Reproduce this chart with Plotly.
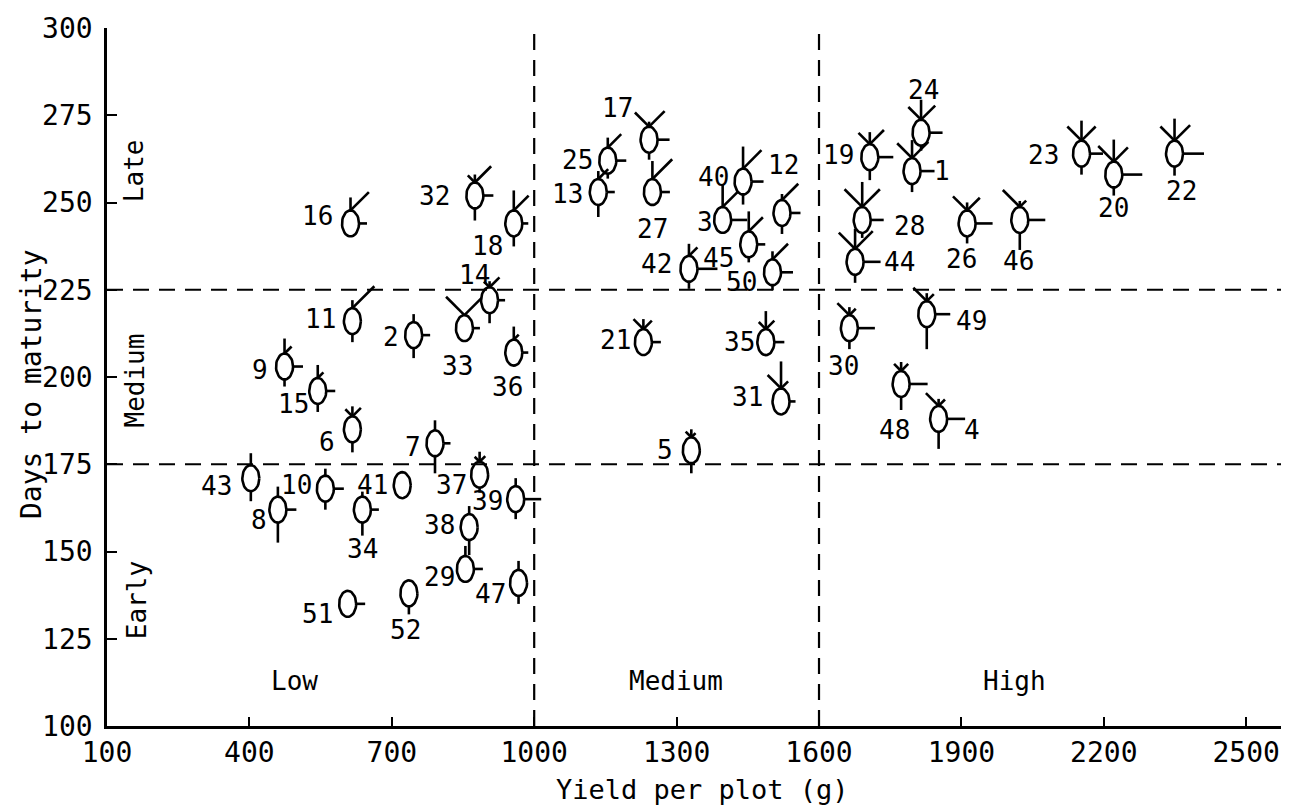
import numpy as np
import plotly.graph_objects as go

# ---------------- data ----------------
ids = list(range(1, 53))
yield_g = [1796, 746, 1397, 1852, 1331, 617, 791, 460, 474, 560,
           617, 1522, 1135, 906, 544, 613, 1242, 957, 1707, 2221,
           1230, 2349, 2153, 1815, 1155, 1912, 1249, 1691, 855, 1664,
           1520, 875, 853, 638, 1488, 957, 885, 863, 961, 1440,
           722, 1326, 403, 1676, 1452, 2023, 967, 1773, 1827, 1502,
           607, 736]
days = [259, 212, 245, 188, 179, 185, 181, 162, 203, 168,
        216, 247, 253, 222, 196, 244, 268, 244, 263, 258,
        210, 264, 264, 270, 262, 244, 253, 245, 145, 214,
        193, 252, 214, 162, 210, 207, 172, 157, 165, 256,
        169, 231, 171, 233, 238, 245, 141, 198, 218, 230,
        135, 138]
# ray lengths of the metroglyphs (upper-left, up, upper-right, right, down)
ray_ul = [21, 0, 0, 18, 8, 10, 0, 0, 0, 0,
          0, 0, 0, 8, 0, 0, 20, 0, 16, 22,
          14, 20, 20, 18, 0, 20, 0, 25, 0, 17,
          19, 10, 26, 0, 10, 0, 7, 0, 0, 0,
          0, 0, 0, 23, 0, 24, 0, 10, 19, 0,
          0, 0]
ray_up = [18, 8, 22, 7, 8, 10, 10, 10, 15, 7,
          8, 6, 8, 6, 13, 13, 5, 20, 12, 22,
          10, 22, 20, 20, 10, 8, 18, 25, 10, 8,
          27, 8, 0, 5, 18, 13, 10, 8, 8, 22,
          0, 12, 12, 20, 20, 6, 9, 9, 8, 8,
          0, 0]
ray_ur = [23, 0, 21, 9, 6, 12, 0, 0, 10, 0,
          31, 23, 14, 14, 8, 26, 22, 21, 20, 20,
          12, 22, 20, 20, 19, 18, 28, 25, 0, 9,
          10, 23, 24, 0, 12, 7, 8, 0, 0, 26,
          0, 12, 0, 25, 20, 9, 0, 10, 10, 22,
          0, 0]
ray_rt = [14, 8, 16, 18, 0, 0, 7, 10, 10, 10,
          0, 10, 8, 7, 9, 8, 12, 6, 15, 20,
          9, 21, 13, 13, 10, 17, 9, 13, 9, 17,
          6, 10, 7, 8, 10, 6, 0, 0, 17, 12,
          0, 20, 0, 17, 8, 17, 0, 18, 15, 12,
          9, 0]
ray_dn = [8, 10, 0, 17, 10, 10, 17, 20, 7, 8,
          8, 8, 12, 10, 8, 0, 7, 10, 10, 8,
          0, 9, 8, 5, 5, 7, 0, 5, 0, 8,
          0, 12, 0, 13, 0, 0, 5, 15, 7, 10,
          0, 7, 10, 8, 5, 17, 8, 13, 22, 5,
          0, 8]
x_ticks = [100, 400, 700, 1000, 1300, 1600, 1900, 2200, 2500]
y_ticks = [100, 125, 150, 175, 200, 225, 250, 275, 300]
yield_breaks = [1000, 1600]
days_breaks = [175, 225]
x_title = "Yield per plot (g)"
y_title = "Days to maturity"

# ---------------- styling / layout ----------------
W, H = 1289, 806
ML, MR, MT, MB = 99, 0, 20, 88
XMIN, XMAX = 100, 2607
YMIN, YMAX = 100, 300
FONT = "DejaVu Sans Mono"
INK = "black"

pw, ph = W - ML - MR, H - MT - MB
kx = (XMAX - XMIN) / pw   # data units per pixel
ky = (YMAX - YMIN) / ph

# label offsets in pixels (dx right, dy down) relative to glyph centre
label_off = [(30, 0), (-23, 2), (-18, 2), (33, 11), (-26, 0), (-25, 13), (-22, 4), (-19, 10), (-25, 3), (-29, -4),
             (-32, -2), (2, -48), (-31, 2), (-15, -25), (-24, 13), (-33, -7), (-32, -32), (-26, 23), (-31, -2), (0, 33),
             (-28, -2), (7, 37), (-38, 1), (2, -43), (-30, -1), (-6, 36), (0, 37), (47, 6), (-26, 8), (-6, 38),
             (-34, -4), (-40, 0), (-7, 38), (0, 39), (-26, 0), (-6, 34), (-28, 10), (-30, -2), (-28, 2), (-30, -5),
             (-30, 0), (-32, -5), (-34, 8), (44, 0), (-30, 14), (-1, 41), (-28, 11), (-7, 46), (45, 7), (-31, 10),
             (-30, 10), (-3, 37)]

A_PX, B_PX = 8.5, 13.0  # ellipse half axes (px)
t = np.linspace(0, 2 * np.pi, 41)
ex, ey, rx, ry = [], [], [], []
s2 = np.sqrt(0.5)
for i in range(len(ids)):
    cx, cy = yield_g[i], days[i]
    a, b = A_PX * kx, B_PX * ky
    ex += list(cx + a * np.cos(t)) + [None]
    ey += list(cy + b * np.sin(t)) + [None]
    top = cy + b
    segs = []
    if ray_ul[i]:
        L = ray_ul[i]
        segs.append(((cx, top), (cx - L * s2 * kx, top + L * s2 * ky)))
    if ray_up[i]:
        L = ray_up[i]
        segs.append(((cx, top), (cx, top + L * ky)))
    if ray_ur[i]:
        L = ray_ur[i]
        segs.append(((cx, top), (cx + L * s2 * kx, top + L * s2 * ky)))
    if ray_rt[i]:
        L = ray_rt[i]
        segs.append(((cx + a, cy), (cx + a + L * kx, cy)))
    if ray_dn[i]:
        L = ray_dn[i]
        segs.append(((cx, cy - b), (cx, cy - b - L * ky)))
    for (x0, y0), (x1, y1) in segs:
        rx += [x0, x1, None]
        ry += [y0, y1, None]

fig = go.Figure()
fig.add_trace(go.Scatter(x=ex, y=ey, mode="lines", line=dict(color=INK, width=2.6),
                         hoverinfo="skip", showlegend=False))
fig.add_trace(go.Scatter(x=rx, y=ry, mode="lines", line=dict(color=INK, width=2.6),
                         hoverinfo="skip", showlegend=False))

annotations = []
for i, gid in enumerate(ids):
    dx, dy = label_off[i]
    annotations.append(dict(x=yield_g[i], y=days[i], xref="x", yref="y", text=str(gid),
                            showarrow=False, xshift=dx, yshift=-dy,
                            font=dict(family=FONT, size=26, color=INK)))

# class labels
for txt, xv, yv in [("Late", 157, 259), ("Medium", 159, 199), ("Early", 165, 136)]:
    annotations.append(dict(x=xv, y=yv, xref="x", yref="y", text=txt, textangle=-90,
                            showarrow=False, font=dict(family=FONT, size=26, color=INK)))
for txt, xv, yv in [("Low", 495, 113), ("Medium", 1299, 113), ("High", 2011, 113)]:
    annotations.append(dict(x=xv, y=yv, xref="x", yref="y", text=txt,
                            showarrow=False, font=dict(family=FONT, size=26, color=INK)))

# axis titles
annotations.append(dict(x=0.5, y=-0.0905, xref="paper", yref="paper", text=x_title,
                        showarrow=False, xanchor="center", yanchor="middle", borderpad=0,
                        font=dict(family=FONT, size=27, color=INK)))
annotations.append(dict(x=-0.063, y=0.49, xref="paper", yref="paper", text=y_title,
                        showarrow=False, textangle=-90, xanchor="center", yanchor="middle",
                        font=dict(family=FONT, size=28, color=INK)))

shapes = []
for xb in yield_breaks:
    shapes.append(dict(type="line", xref="x", yref="y", x0=xb, x1=xb, y0=YMIN, y1=YMAX,
                       line=dict(color=INK, width=2.2, dash="16px,10px")))
for yb in days_breaks:
    shapes.append(dict(type="line", xref="x", yref="y", x0=XMIN, x1=XMAX, y0=yb, y1=yb,
                       line=dict(color=INK, width=2.2, dash="16px,10px")))

fig.update_layout(
    width=W, height=H, margin=dict(l=ML, r=MR, t=MT, b=MB, autoexpand=False),
    paper_bgcolor="white", plot_bgcolor="white",
    annotations=annotations, shapes=shapes, showlegend=False,
    font=dict(family=FONT, size=28, color=INK),
    xaxis=dict(range=[XMIN, XMAX], tickvals=x_ticks, ticktext=[str(v) for v in x_ticks],
               showgrid=False, zeroline=False, showline=True, linecolor=INK, linewidth=2.5,
               ticks="inside", ticklen=9, tickwidth=2, tickcolor=INK,
               ticklabelstandoff=0,
               tickfont=dict(family=FONT, size=28, color=INK),
               automargin=False),
    yaxis=dict(range=[YMIN, YMAX], tickvals=y_ticks, ticktext=[str(v) for v in y_ticks],
               showgrid=False, zeroline=False, showline=True, linecolor=INK, linewidth=2.5,
               ticks="inside", ticklen=10, tickwidth=2, tickcolor=INK,
               ticklabelstandoff=6,
               tickfont=dict(family=FONT, size=28, color=INK),
               automargin=False),
)

fig.write_html("out.html")
